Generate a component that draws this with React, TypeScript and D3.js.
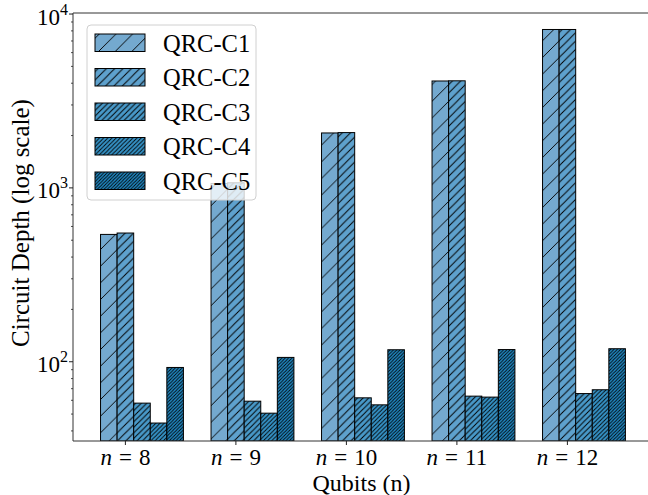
import React from "react";
import * as d3 from "d3";

const groups = ["8", "9", "10", "11", "12"];
const seriesNames = ["QRC-C1", "QRC-C2", "QRC-C3", "QRC-C4", "QRC-C5"];
const c1 = [540, 1060, 2070, 4120, 8150];
const c2 = [550, 1070, 2080, 4130, 8150];
const c3 = [57.8, 59.3, 62, 63.4, 65.6];
const c4 = [44.4, 50.6, 56.5, 62.6, 69];
const c5 = [92.7, 105.9, 117.2, 117.5, 118.8];
const seriesValues = [c1, c2, c3, c4, c5];
const colors = ["#74a9cf", "#5ea1cd", "#4899c9", "#3592c6", "#2189c4"];
const hatchCounts = [1, 2, 3, 4, 5];
const majorTicks = [100, 1000, 10000];

const W = 648;
const H = 495;
const FONT = "'Liberation Serif', 'DejaVu Serif', serif";

export default function App() {
  const x = d3.scaleLinear().domain([0, 4]).range([125.4, 567.4]);
  const y = d3.scaleLog().domain([35, Math.pow(10, 4.006)]).range([441, 13]);
  const barW = 0.15;
  const pxW = x(barW) - x(0);
  const [y0, y1] = y.domain();
  const minor: number[] = [];
  for (let e = 1; e <= 4; e++) {
    for (let k = 2; k <= 9; k++) {
      const v = k * Math.pow(10, e);
      if (v >= y0 && v <= y1) minor.push(v);
    }
  }
  const axL = 73;
  const axR = 650;
  const axT = 13;
  const axB = 441;

  return (
    <svg
      width={W}
      height={H}
      style={{ position: "absolute", left: 0, top: 0, background: "#fff" }}
      fontFamily={FONT}
    >
      <defs>
        {hatchCounts.map((c, i) => {
          const s = 100 / (6 * c);
          return (
            <pattern
              key={i}
              id={`h${i}`}
              patternUnits="userSpaceOnUse"
              width={s}
              height={s}
            >
              <rect width={s} height={s} fill={colors[i]} />
              <path
                d={`M-1,1 l2,-2 M0,${s} l${s},${-s} M${s - 1},${s + 1} l2,-2`}
                stroke="#000"
                strokeWidth={c >= 4 ? 0.85 : 0.95}
                strokeLinecap="square"
              />
            </pattern>
          );
        })}
        <clipPath id="ax">
          <rect x={axL} y={axT} width={axR - axL} height={axB - axT} />
        </clipPath>
      </defs>

      <g clipPath="url(#ax)">
        {seriesValues.map((vals, si) =>
          vals.map((v, gi) => {
            const left = x(gi + (si - 1.5) * barW);
            const top = y(v);
            return (
              <rect
                key={`${si}-${gi}`}
                x={left}
                y={top}
                width={pxW}
                height={axB - top}
                fill={`url(#h${si})`}
                stroke="#000"
                strokeWidth={1}
              />
            );
          })
        )}
      </g>

      {/* spines */}
      <line x1={axL} x2={axL} y1={axT} y2={axB} stroke="#333" strokeWidth={1} />
      <line x1={axL} x2={axR} y1={axB} y2={axB} stroke="#333" strokeWidth={1} />
      <line x1={axL} x2={axR} y1={axT} y2={axT} stroke="#333" strokeWidth={1} />

      {/* y ticks */}
      {majorTicks.map((t) => (
        <g key={t}>
          <line x1={axL - 4} x2={axL} y1={y(t)} y2={y(t)} stroke="#222" strokeWidth={1} />
          <text x={axL - 5} y={y(t) + 10.5} textAnchor="end" fontSize={23} fill="#000">
            10
            <tspan dy={-10} fontSize={16}>
              {Math.round(Math.log10(t))}
            </tspan>
          </text>
        </g>
      ))}
      {minor.map((t) => (
        <line key={t} x1={axL - 2} x2={axL} y1={y(t)} y2={y(t)} stroke="#222" strokeWidth={0.8} />
      ))}

      {/* x ticks */}
      {groups.map((g, i) => (
        <g key={g}>
          <line x1={x(i)} x2={x(i)} y1={axB} y2={axB + 4} stroke="#222" strokeWidth={1} />
          <text x={x(i)} y={465} textAnchor="middle" fontSize={23} fill="#000">
            <tspan fontStyle="italic">n</tspan>
            <tspan dx={7}>=</tspan>
            <tspan dx={7}>{g}</tspan>
          </text>
        </g>
      ))}

      {/* axis labels */}
      <text x={361.5} y={491} textAnchor="middle" fontSize={24} fill="#000">
        Qubits (n)
      </text>
      <text
        transform={`translate(29,${(axT + axB) / 2 - 4}) rotate(-90)`}
        textAnchor="middle"
        fontSize={25}
        fill="#000"
      >
        Circuit Depth (log scale)
      </text>

      {/* legend */}
      <rect x={87} y={25} width={169} height={175} rx={4} fill="#fff" fillOpacity={0.8} stroke="#d0d0d0" strokeWidth={1} />
      {seriesNames.map((name, i) => {
        const ty = 34 + i * 34.5;
        return (
          <g key={name}>
            <rect x={95} y={ty} width={50} height={17.5} fill={`url(#h${i})`} stroke="#000" strokeWidth={1} />
            <text x={163} y={ty + 17.5} fontSize={24.5} fill="#000">
              {name}
            </text>
          </g>
        );
      })}
    </svg>
  );
}
